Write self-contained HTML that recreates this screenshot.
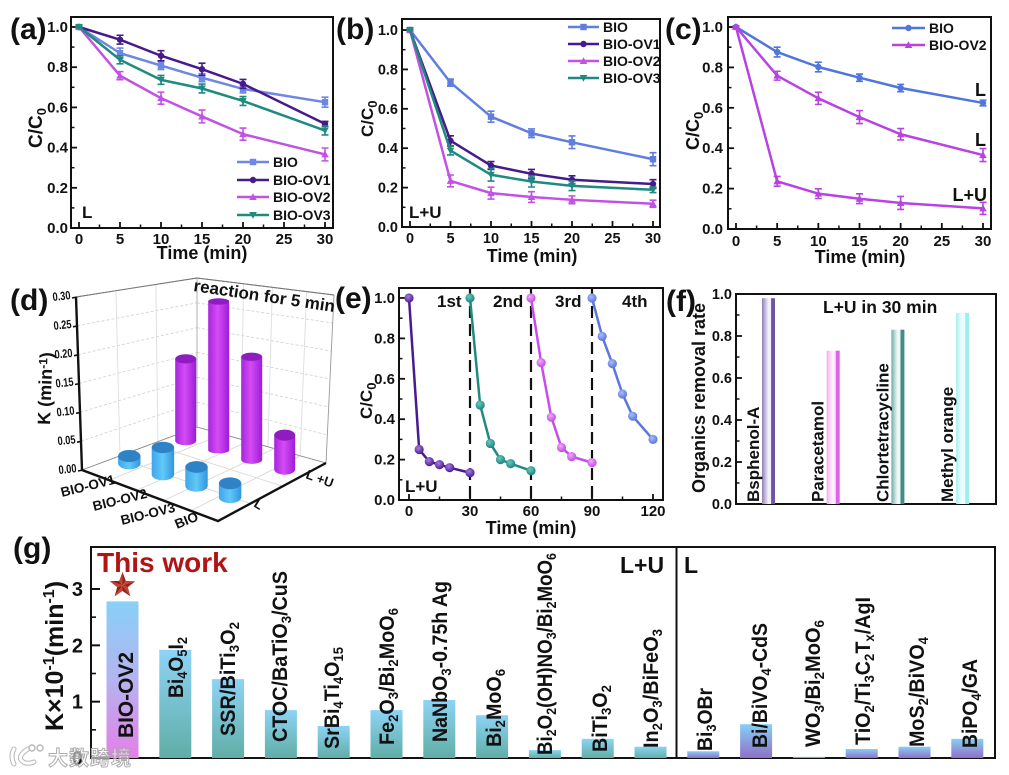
<!DOCTYPE html>
<html lang="en">
<head>
<meta charset="utf-8">
<title>Photocatalytic degradation figure</title>
<style>
html,body{margin:0;padding:0;background:#fff;}
svg{display:block;font-family:"Liberation Sans","Noto Sans CJK SC",sans-serif;font-weight:bold;fill:#111;filter:blur(.35px);}
.panel-letter{font-size:30px;}
.title{font-size:18px;}
.cc{font-size:19px;}
.cc tspan{font-size:13px;}
.gl{font-size:21px;}
.gl tspan.s{font-size:14px;}
.note{font-size:17px;}
.frame{fill:none;stroke:#111;stroke-width:2;}
</style>
</head>
<body>
<svg id="figure" xmlns="http://www.w3.org/2000/svg" width="1009" height="775" viewBox="0 0 1009 775">
<defs>
<linearGradient id="gb-pink" x1="0" y1="0" x2="0" y2="1"><stop offset="0" stop-color="#88d0f6"/><stop offset=".5" stop-color="#b4b4f0"/><stop offset="1" stop-color="#e47fe8"/></linearGradient>
<linearGradient id="gb-teal" x1="0" y1="0" x2="0" y2="1"><stop offset="0" stop-color="#8dd3f6"/><stop offset="1" stop-color="#60aea6"/></linearGradient>
<linearGradient id="gb-purple" x1="0" y1="0" x2="0" y2="1"><stop offset="0" stop-color="#86d0f4"/><stop offset="1" stop-color="#8f70c8"/></linearGradient>
<linearGradient id="cyl-mag" x1="0" y1="0" x2="1" y2="0"><stop offset="0" stop-color="#a625dc"/><stop offset=".45" stop-color="#d44cf4"/><stop offset="1" stop-color="#9c1cd8"/></linearGradient>
<linearGradient id="cyl-blue" x1="0" y1="0" x2="1" y2="0"><stop offset="0" stop-color="#3fa6ea"/><stop offset=".5" stop-color="#62c8f6"/><stop offset="1" stop-color="#2f96e0"/></linearGradient>
<linearGradient id="fb-0" x1="0" y1="0" x2="1" y2="0"><stop offset="0" stop-color="#8f7fb8"/><stop offset=".25" stop-color="#c4b8dc"/><stop offset=".5" stop-color="#f6f2fb"/><stop offset=".68" stop-color="#f0ecf8"/><stop offset=".72" stop-color="#6e559e"/><stop offset="1" stop-color="#6e559e"/></linearGradient>
<linearGradient id="fb-1" x1="0" y1="0" x2="1" y2="0"><stop offset="0" stop-color="#f4a6f0"/><stop offset=".25" stop-color="#fbd8f8"/><stop offset=".5" stop-color="#fff6ff"/><stop offset=".68" stop-color="#fbdcf8"/><stop offset=".72" stop-color="#e460e8"/><stop offset="1" stop-color="#e460e8"/></linearGradient>
<linearGradient id="fb-2" x1="0" y1="0" x2="1" y2="0"><stop offset="0" stop-color="#6eaaa4"/><stop offset=".25" stop-color="#b8d8d4"/><stop offset=".5" stop-color="#f4faf9"/><stop offset=".68" stop-color="#e8f3f2"/><stop offset=".72" stop-color="#3f8d86"/><stop offset="1" stop-color="#3f8d86"/></linearGradient>
<linearGradient id="fb-3" x1="0" y1="0" x2="1" y2="0"><stop offset="0" stop-color="#a4efef"/><stop offset=".25" stop-color="#d2f8f8"/><stop offset=".5" stop-color="#f4fefe"/><stop offset=".68" stop-color="#e6fbfb"/><stop offset=".72" stop-color="#a0eeee"/><stop offset="1" stop-color="#a0eeee"/></linearGradient>
<radialGradient id="ball-purple" cx=".4" cy=".35" r=".7"><stop offset="0" stop-color="#a87ee0"/><stop offset="1" stop-color="#45158c"/></radialGradient>
<radialGradient id="ball-teal" cx=".4" cy=".35" r=".7"><stop offset="0" stop-color="#6cc8bc"/><stop offset="1" stop-color="#15807a"/></radialGradient>
<radialGradient id="ball-mag" cx=".4" cy=".35" r=".7"><stop offset="0" stop-color="#f0aaf8"/><stop offset="1" stop-color="#c042e4"/></radialGradient>
<radialGradient id="ball-blue" cx=".4" cy=".35" r=".7"><stop offset="0" stop-color="#aabcf6"/><stop offset="1" stop-color="#5270dc"/></radialGradient>
</defs>
<rect x="0" y="0" width="1009" height="775" fill="#fff"/>

<!-- panel letters -->
<text class="panel-letter" x="10" y="39">(a)</text>
<text class="panel-letter" x="336" y="39">(b)</text>
<text class="panel-letter" x="665" y="39">(c)</text>
<text class="panel-letter" x="10" y="310">(d)</text>
<text class="panel-letter" x="335" y="308">(e)</text>
<text class="panel-letter" x="666" y="311">(f)</text>
<text class="panel-letter" x="13" y="558">(g)</text>

<!-- panel a -->
<g id="panel-a">
<rect class="frame" x="71" y="17" width="262" height="211"/>
<text class="title" x="202" y="259" text-anchor="middle">Time (min)</text>
<text class="cc" transform="translate(42,148) rotate(-90)">C/C<tspan dy="4">0</tspan></text>
<text class="note" x="82" y="218">L</text>
</g>
<!-- panel b -->
<g id="panel-b">
<rect class="frame" x="402" y="19" width="258" height="208"/>
<text class="title" x="532" y="262" text-anchor="middle">Time (min)</text>
<text class="cc" style="font-size:17px" transform="translate(373,137) rotate(-90)">C/C<tspan dy="4">0</tspan></text>
<text class="note" x="409" y="218">L+U</text>
</g>
<!-- panel c -->
<g id="panel-c">
<rect class="frame" x="728" y="17" width="263" height="212"/>
<text class="title" x="860" y="263" text-anchor="middle">Time (min)</text>
<text class="cc" style="font-size:18px" transform="translate(699,150) rotate(-90)">C/C<tspan dy="4">0</tspan></text>
<text class="title" x="986" y="96" text-anchor="end">L</text>
<text class="title" x="986" y="146" text-anchor="end">L</text>
<text class="title" x="987" y="201" text-anchor="end">L+U</text>
</g>
<!-- panel d -->
<g id="panel-d">
<g id="d-walls"></g>
<path d="M76 297 L82 470 L218 521 L326 463" fill="none" stroke="#111" stroke-width="2.4"/>
<g id="d-bars"></g>
<text transform="translate(50,425) rotate(-88)" style="font-size:18px">K (min<tspan dy="-5" style="font-size:12px">-1</tspan><tspan dy="5">)</tspan></text>
<text transform="translate(193,291) rotate(8.5)" style="font-size:17px">reaction for 5 min</text>
<text transform="translate(62,497) rotate(-14)" style="font-size:13.5px">BIO-OV1</text>
<text transform="translate(94,511) rotate(-14)" style="font-size:13.5px">BIO-OV2</text>
<text transform="translate(122,525) rotate(-14)" style="font-size:13.5px">BIO-OV3</text>
<text transform="translate(177,529) rotate(-22)" style="font-size:13.5px">BIO</text>
<text transform="translate(253,506) rotate(32)" style="font-size:13px">L</text>
<text transform="translate(305,478) rotate(20)" style="font-size:13px">L +U</text>
</g>
<!-- panel e -->
<g id="panel-e">
<rect class="frame" x="399" y="288" width="264" height="212"/>
<text class="title" x="531" y="534" text-anchor="middle">Time (min)</text>
<text class="cc" style="font-size:17px" transform="translate(372,419) rotate(-90)">C/C<tspan dy="4">0</tspan></text>
<text class="note" x="437" y="307">1st</text>
<text class="note" x="493" y="307">2nd</text>
<text class="note" x="555" y="307">3rd</text>
<text class="note" x="622" y="307">4th</text>
<text class="note" x="405" y="492">L+U</text>
</g>
<!-- panel f -->
<g id="panel-f">
<rect class="frame" x="736" y="294" width="260" height="210"/>
<text class="title" transform="translate(705,398) rotate(-90)" text-anchor="middle">Organics removal rate</text>
<text class="note" x="823" y="313" style="font-size:17.5px">L+U in 30 min</text>
</g>
<!-- panel g -->
<g id="panel-g">
<rect class="frame" x="91" y="547" width="904" height="211"/>
<line x1="676.5" y1="547" x2="676.5" y2="758" stroke="#111" stroke-width="2"/>
<text transform="translate(63,731) rotate(-90)" style="font-size:25px">K×10<tspan dy="-9" style="font-size:16px">-1</tspan><tspan dy="9">(min</tspan><tspan dy="-9" style="font-size:16px">-1</tspan><tspan dy="9">)</tspan></text>
<text x="97" y="572" style="font-size:28px;fill:#b01414">This work</text>
<text x="620" y="573" style="font-size:23px">L+U</text>
<text x="684" y="573" style="font-size:23px">L</text>
</g>
<script>
/* ---------- data ---------- */
const timesABC = [0, 5, 10, 15, 20, 30];
const xTicksABC = [0, 5, 10, 15, 20, 25, 30];
const xMinorABC = [2.5, 7.5, 12.5, 17.5, 22.5, 27.5];
const yTicksUnit = [0, 0.2, 0.4, 0.6, 0.8, 1.0];
const yMinorUnit = [0.1, 0.3, 0.5, 0.7, 0.9];

const aBIO = [1, 0.87, 0.808, 0.748, 0.692, 0.626];
const aBIOErr = [0.005, 0.025, 0.02, 0.02, 0.02, 0.025];
const aOV1 = [1, 0.937, 0.857, 0.79, 0.717, 0.518];
const aOV1Err = [0.005, 0.022, 0.025, 0.03, 0.022, 0.012];
const aOV2 = [1, 0.758, 0.646, 0.555, 0.467, 0.366];
const aOV2Err = [0.005, 0.02, 0.03, 0.032, 0.03, 0.032];
const aOV3 = [1, 0.837, 0.737, 0.694, 0.632, 0.485];
const aOV3Err = [0.005, 0.02, 0.022, 0.022, 0.022, 0.022];

const bBIO = [1, 0.733, 0.56, 0.476, 0.43, 0.344];
const bBIOErr = [0.005, 0.018, 0.028, 0.022, 0.032, 0.033];
const bOV1 = [1, 0.438, 0.312, 0.27, 0.24, 0.218];
const bOV1Err = [0.005, 0.025, 0.02, 0.022, 0.02, 0.022];
const bOV2 = [1, 0.234, 0.172, 0.152, 0.138, 0.118];
const bOV2Err = [0.005, 0.03, 0.03, 0.027, 0.02, 0.018];
const bOV3 = [1, 0.388, 0.265, 0.231, 0.209, 0.189];
const bOV3Err = [0.005, 0.022, 0.032, 0.028, 0.024, 0.014];

const cBIO = [1, 0.876, 0.802, 0.749, 0.698, 0.624];
const cBIOErr = [0.005, 0.024, 0.024, 0.018, 0.018, 0.014];
const cOV2L = [1, 0.759, 0.647, 0.554, 0.469, 0.366];
const cOV2LErr = [0.005, 0.022, 0.03, 0.032, 0.028, 0.032];
const cOV2LU = [1, 0.236, 0.175, 0.15, 0.129, 0.102];
const cOV2LUErr = [0.005, 0.024, 0.024, 0.024, 0.032, 0.03];

const dYTicks = [0, 0.05, 0.10, 0.15, 0.20, 0.25, 0.30];
const dCategories = ['BIO-OV1', 'BIO-OV2', 'BIO-OV3', 'BIO'];
const dValuesL = [0.0143, 0.051, 0.034, 0.024];
const dValuesLU = [0.167, 0.29, 0.192, 0.061];

const eTimes1 = [0, 5, 10, 15, 20, 30];
const eCycle1 = [1, 0.25, 0.19, 0.175, 0.16, 0.135];
const eTimes2 = [30, 35, 40, 45, 50, 60];
const eCycle2 = [1, 0.47, 0.28, 0.2, 0.18, 0.145];
const eTimes3 = [60, 65, 70, 75, 80, 90];
const eCycle3 = [1, 0.68, 0.41, 0.26, 0.215, 0.185];
const eTimes4 = [90, 95, 100, 105, 110, 120];
const eCycle4 = [1, 0.81, 0.675, 0.525, 0.415, 0.30];
const eXTicks = [0, 30, 60, 90, 120];
const eXMinor = [15, 45, 75, 105];
const eCycleBoundaries = [30, 60, 90];

const fCategories = ['Bsphenol-A', 'Paracetamol', 'Chlortetracycline', 'Methyl orange'];
const fValues = [0.98, 0.73, 0.83, 0.91];

const gCategories = ['BIO-OV2', 'Bi4O5I2', 'SSR/BiTi3O2', 'CTOC/BaTiO3/CuS', 'SrBi4Ti4O15', 'Fe2O3/Bi2MoO6', 'NaNbO3-0.75h Ag', 'Bi2MoO6', 'Bi2O2(OH)NO3/Bi2MoO6', 'BiTi3O2', 'In2O3/BiFeO3', 'Bi3OBr', 'Bi/BiVO4-CdS', 'WO3/Bi2MoO6', 'TiO2/Ti3C2Tx/AgI', 'MoS2/BiVO4', 'BiPO4/GA'];
const gValues = [2.78, 1.92, 1.40, 0.85, 0.57, 0.85, 1.03, 0.76, 0.14, 0.34, 0.20, 0.12, 0.60, 0.02, 0.16, 0.20, 0.34];
const gYTicks = [0, 1, 2, 3];
const gYMinor = [0.5, 1.5, 2.5];

/* ---------- helpers ---------- */
const svgNS = 'http://www.w3.org/2000/svg';
function mk(tag, attrs, parent) {
  const el = document.createElementNS(svgNS, tag);
  for (const k in attrs) el.setAttribute(k, attrs[k]);
  parent.appendChild(el);
  return el;
}
function linear(d0, d1, r0, r1) {
  return v => r0 + (v - d0) / (d1 - d0) * (r1 - r0);
}
function slug(s) {
  return String(s).toLowerCase().replace(/[^a-z0-9]+/g, '-');
}
function markerShape(shape, x, y, color, parent) {
  let el;
  if (shape === 'square') el = mk('rect', {x: x - 3.2, y: y - 3.2, width: 6.4, height: 6.4, fill: color}, parent);
  else if (shape === 'circle') el = mk('circle', {cx: x, cy: y, r: 3.2, fill: color}, parent);
  else if (shape === 'up') el = mk('polygon', {points: (x - 3.8) + ',' + (y + 3) + ' ' + (x + 3.8) + ',' + (y + 3) + ' ' + x + ',' + (y - 3.8), fill: color}, parent);
  else el = mk('polygon', {points: (x - 3.8) + ',' + (y - 3) + ' ' + (x + 3.8) + ',' + (y - 3) + ' ' + x + ',' + (y + 3.8), fill: color}, parent);
  return el;
}
function drawAxes(panelId, x, y, f, xTicks, xMinor, yTicks, yMinor, xLabelY, yLabelX, size) {
  const g = document.getElementById(panelId);
  xTicks.forEach(t => {
    const tick = mk('line', {x1: x(t), x2: x(t), y1: f.b, y2: f.b - 6, stroke: '#111', 'stroke-width': 1.8}, g);
    
    
    const label = mk('text', {x: x(t), y: xLabelY, 'text-anchor': 'middle', style: 'font-size:' + size + 'px'}, g);
    label.textContent = t;
    
    
  });
  xMinor.forEach(t => {
    const tick = mk('line', {x1: x(t), x2: x(t), y1: f.b, y2: f.b - 3.5, stroke: '#111', 'stroke-width': 1.5}, g);
    
    
  });
  yTicks.forEach(t => {
    const tick = mk('line', {x1: f.l, x2: f.l + 6, y1: y(t), y2: y(t), stroke: '#111', 'stroke-width': 1.8}, g);
    
    
    const label = mk('text', {x: yLabelX, y: y(t) + 5, 'text-anchor': 'end', style: 'font-size:' + size + 'px'}, g);
    label.textContent = t.toFixed(1);
    
    
  });
  yMinor.forEach(t => {
    const tick = mk('line', {x1: f.l, x2: f.l + 3.5, y1: y(t), y2: y(t), stroke: '#111', 'stroke-width': 1.5}, g);
    
    
  });
}
function drawSeries(panelId, name, times, values, errors, x, y, color, shape) {
  const g = mk('g', {}, document.getElementById(panelId));
  
  
  const line = mk('polyline', {points: times.map((t, i) => x(t) + ',' + y(values[i])).join(' '), fill: 'none', stroke: color, 'stroke-width': 2.5, 'stroke-linejoin': 'round'}, g);
  
  
  times.forEach((t, i) => {
    const px = x(t);
    const hi = y(values[i] + errors[i]);
    const lo = y(values[i] - errors[i]);
    const err = mk('path', {d: 'M' + (px - 3.5) + ' ' + hi + 'H' + (px + 3.5) + 'M' + px + ' ' + hi + 'V' + lo + 'M' + (px - 3.5) + ' ' + lo + 'H' + (px + 3.5), fill: 'none', stroke: color, 'stroke-width': 1.6}, g);
    
    
    const m = markerShape(shape, px, y(values[i]), color, g);
    
    
  });
}
function drawLegendEntry(panelId, label, x0, x1, textX, rowY, color, shape) {
  const g = mk('g', {}, document.getElementById(panelId));
  
  
  const ln = mk('line', {x1: x0, x2: x1, y1: rowY, y2: rowY, stroke: color, 'stroke-width': 2.5}, g);
  
  
  const m = markerShape(shape, (x0 + x1) / 2, rowY, color, g);
  
  
  const t = mk('text', {x: textX, y: rowY + 5, style: 'font-size:14px'}, g);
  t.textContent = label;
  
  
}

const colBIO = '#6c88e4', colOV1 = '#471a8c', colOV2 = '#c152e4', colOV3 = '#1f8a80';

/* ---------- panel a ---------- */
const ax = linear(0, 30, 79, 325), ay = linear(0, 1, 228, 27);
drawAxes('panel-a', ax, ay, {l: 71, b: 228}, xTicksABC, xMinorABC, yTicksUnit, yMinorUnit, 244, 68, 15);
drawSeries('panel-a', 'a-BIO', timesABC, aBIO, aBIOErr, ax, ay, colBIO, 'square');
drawSeries('panel-a', 'a-OV1', timesABC, aOV1, aOV1Err, ax, ay, colOV1, 'circle');
drawSeries('panel-a', 'a-OV2', timesABC, aOV2, aOV2Err, ax, ay, colOV2, 'up');
drawSeries('panel-a', 'a-OV3', timesABC, aOV3, aOV3Err, ax, ay, colOV3, 'down');
drawLegendEntry('panel-a', 'BIO', 237, 269, 273, 162, colBIO, 'square');
drawLegendEntry('panel-a', 'BIO-OV1', 237, 269, 273, 180, colOV1, 'circle');
drawLegendEntry('panel-a', 'BIO-OV2', 237, 269, 273, 197, colOV2, 'up');
drawLegendEntry('panel-a', 'BIO-OV3', 237, 269, 273, 215, colOV3, 'down');

/* ---------- panel b ---------- */
const bx = linear(0, 30, 410, 653), by = linear(0, 1, 227, 30);
drawAxes('panel-b', bx, by, {l: 402, b: 227}, xTicksABC, xMinorABC, yTicksUnit, yMinorUnit, 243, 398, 14.5);
drawSeries('panel-b', 'b-BIO', timesABC, bBIO, bBIOErr, bx, by, '#5f7ee0', 'square');
drawSeries('panel-b', 'b-OV1', timesABC, bOV1, bOV1Err, bx, by, colOV1, 'circle');
drawSeries('panel-b', 'b-OV2', timesABC, bOV2, bOV2Err, bx, by, colOV2, 'up');
drawSeries('panel-b', 'b-OV3', timesABC, bOV3, bOV3Err, bx, by, colOV3, 'down');
drawLegendEntry('panel-b', 'BIO', 568, 599, 603, 27, '#5f7ee0', 'square');
drawLegendEntry('panel-b', 'BIO-OV1', 568, 599, 603, 44, colOV1, 'circle');
drawLegendEntry('panel-b', 'BIO-OV2', 568, 599, 603, 61, colOV2, 'up');
drawLegendEntry('panel-b', 'BIO-OV3', 568, 599, 603, 78, colOV3, 'down');

/* ---------- panel c ---------- */
const cx = linear(0, 30, 736, 983), cy = linear(0, 1, 229, 27);
drawAxes('panel-c', cx, cy, {l: 728, b: 229}, xTicksABC, xMinorABC, yTicksUnit, yMinorUnit, 246, 723, 15);
drawSeries('panel-c', 'c-BIO', timesABC, cBIO, cBIOErr, cx, cy, '#4f76dc', 'circle');
drawSeries('panel-c', 'c-OV2-L', timesABC, cOV2L, cOV2LErr, cx, cy, '#b843e0', 'up');
drawSeries('panel-c', 'c-OV2-LU', timesABC, cOV2LU, cOV2LUErr, cx, cy, '#b843e0', 'up');
drawLegendEntry('panel-c', 'BIO', 892, 925, 929, 28, '#4f76dc', 'circle');
drawLegendEntry('panel-c', 'BIO-OV2', 892, 925, 929, 45, '#b843e0', 'up');

/* ---------- panel d ---------- */
const dLeft0 = [82, 470], dLeft1 = [76, 297], dBack0 = [197, 427], dBack1 = [197, 278], dRight0 = [326, 463], dRight1 = [334, 295], dFront = [218, 521];
const mix = (a, b, t) => [a[0] + (b[0] - a[0]) * t, a[1] + (b[1] - a[1]) * t];
const dk = linear(0, 0.3, 0, 1);
const wallG = document.getElementById('d-walls');
function wallLine(p, q, name, color, dash) {
  const l = mk('line', {x1: p[0], y1: p[1], x2: q[0], y2: q[1], stroke: color, 'stroke-width': 0.9, 'stroke-dasharray': dash}, wallG);
  
  
}
dYTicks.forEach(k => {
  const t = dk(k);
  const L = mix(dLeft0, dLeft1, t), B = mix(dBack0, dBack1, t), R = mix(dRight0, dRight1, t);
  wallLine(L, B, 'wall-gridline', k === 0.3 ? '#777' : '#d4d4d4', k === 0.3 ? 'none' : '3 2');
  wallLine(B, R, 'wall-gridline', k === 0.3 ? '#777' : '#d4d4d4', k === 0.3 ? 'none' : '3 2');
  const tick = mk('line', {x1: L[0] - 4, y1: L[1] + 1, x2: L[0] + 1, y2: L[1], stroke: '#111', 'stroke-width': 1.6}, wallG);
  
  
  const lab = mk('text', {transform: 'translate(' + (L[0] - 23) + ',' + (L[1] + 4) + ') rotate(-6)', style: 'font-size:12px', textLength: 18, lengthAdjust: 'spacingAndGlyphs'}, wallG);
  lab.textContent = k.toFixed(2);
  
  
});
[0.33, 0.66].forEach(t => {
  wallLine(mix(dLeft0, dBack0, t), mix(dLeft1, dBack1, t), 'wall-gridline', '#dedede', 'none');
});
[0.34, 0.55, 0.8].forEach(t => {
  wallLine(mix(dBack0, dRight0, t), mix(dBack1, dRight1, t), 'wall-gridline', '#dedede', 'none');
});
wallLine(dBack0, dBack1, 'wall-back-edge', '#aaa', 'none');
wallLine(dRight0, dRight1, 'wall-right-edge', '#999', 'none');
wallLine(dLeft1, dBack1, 'wall-top-edge', '#777', 'none');
wallLine(dBack1, dRight1, 'wall-top-edge', '#777', 'none');
wallLine(dBack0, dLeft0, 'floor-back-edge', '#888', 'none');
wallLine(dBack0, dRight0, 'floor-right-edge', '#888', 'none');
[0.2, 0.4, 0.6, 0.8].forEach(t => {
  wallLine(mix(dLeft0, dFront, t), mix(dBack0, dRight0, t), 'floor-gridline', '#d8d8d8', 'none');
});
[0.3, 0.6].forEach(t => {
  wallLine(mix(dFront, dRight0, t), mix(dLeft0, dBack0, t), 'floor-gridline', '#d8d8d8', 'none');
});
function dBase(c, row) {
  return row === 0 ? [129.3 + c * 33.6, 463.3 + c * 11.3] : [185.7 + c * 33, 440.7 + c * 9.5];
}
function dHeight(value, c, row) {
  return value * (490 + c * 23 + (row === 0 ? 20 : 0));
}
const dBarsG = document.getElementById('d-bars');
function drawCylinder(value, c, row, fill, topFill, name) {
  const b = dBase(c, row);
  const h = dHeight(value, c, row);
  const rx = row === 0 ? 11.2 : 10.5;
  const ry = Math.max(3, 6.2 - h * 0.02);
  const top = b[1] - h;
  const body = mk('path', {d: 'M' + (b[0] - rx) + ' ' + top + 'V' + b[1] + 'A' + rx + ' ' + ry + ' 0 0 0 ' + (b[0] + rx) + ' ' + b[1] + 'V' + top + 'Z', fill: fill}, dBarsG);
  
  
  const cap = mk('ellipse', {cx: b[0], cy: top, rx: rx, ry: ry, fill: topFill}, dBarsG);
  
  
}
dCategories.forEach((cat, i) => {
  drawCylinder(dValuesLU[i], i, 1, 'url(#cyl-mag)', '#8e1cc0', 'cylinder-lu-' + slug(cat));
});
dCategories.forEach((cat, i) => {
  drawCylinder(dValuesL[i], i, 0, 'url(#cyl-blue)', '#2e82c6', 'cylinder-l-' + slug(cat));
});

/* ---------- panel e ---------- */
const ex = linear(0, 120, 409, 653), ey = linear(0, 1, 500, 298);
drawAxes('panel-e', ex, ey, {l: 399, b: 500}, eXTicks, eXMinor, yTicksUnit, yMinorUnit, 516, 395, 15);
const panelE = document.getElementById('panel-e');
eCycleBoundaries.forEach(t => {
  const dash = mk('line', {x1: ex(t), x2: ex(t), y1: 288, y2: 500, stroke: '#111', 'stroke-width': 2.2, 'stroke-dasharray': '12 6'}, panelE);
  
  
});
function drawCycle(name, times, values, color, ball) {
  const g = mk('g', {}, panelE);
  
  
  const line = mk('polyline', {points: times.map((t, i) => ex(t) + ',' + ey(values[i])).join(' '), fill: 'none', stroke: color, 'stroke-width': 2.5}, g);
  
  
  times.forEach((t, i) => {
    const p = mk('circle', {cx: ex(t), cy: ey(values[i]), r: 4.6, fill: 'url(#' + ball + ')'}, g);
    
    
  });
}
drawCycle('cycle-1', eTimes1, eCycle1, '#4a1a90', 'ball-purple');
drawCycle('cycle-2', eTimes2, eCycle2, '#1f8a80', 'ball-teal');
drawCycle('cycle-3', eTimes3, eCycle3, '#c64ee8', 'ball-mag');
drawCycle('cycle-4', eTimes4, eCycle4, '#5a76e0', 'ball-blue');

/* ---------- panel f ---------- */
const fy = linear(0, 1, 504, 294);
const fx = i => 768.5 + i * 64.7;
drawAxes('panel-f', v => v, fy, {l: 736, b: 504}, [], [], yTicksUnit, yMinorUnit, 0, 732, 14.5);
const panelF = document.getElementById('panel-f');
fCategories.forEach((cat, i) => {
  const bar = mk('rect', {x: fx(i) - 6.5, y: fy(fValues[i]), width: 13, height: fy(0) - fy(fValues[i]), fill: 'url(#fb-' + i + ')'}, panelF);
  
  
  const label = mk('text', {transform: 'translate(' + (fx(i) - 9.5) + ',502) rotate(-90)', style: 'font-size:17px'}, panelF);
  label.textContent = cat;
  
  
});

/* ---------- panel g ---------- */
const gy = linear(0, 3, 758, 589);
const gx = i => 122.5 + i * 52.8;
const panelG = document.getElementById('panel-g');
gCategories.forEach((cat, i) => {
  const fill = i === 0 ? 'url(#gb-pink)' : (i < 11 ? 'url(#gb-teal)' : 'url(#gb-purple)');
  const bar = mk('rect', {x: gx(i) - 16, y: gy(gValues[i]), width: 32, height: gy(0) - gy(gValues[i]), fill: fill}, panelG);
  
  
});
gYTicks.forEach(t => {
  const tick = mk('line', {x1: 91, x2: 100, y1: gy(t), y2: gy(t), stroke: '#111', 'stroke-width': 2}, panelG);
  
  
  const lab = mk('text', {x: 83, y: gy(t) + 7, 'text-anchor': 'end', style: 'font-size:20px'}, panelG);
  lab.textContent = t;
  
  
});
gYMinor.forEach(t => {
  const tick = mk('line', {x1: 91, x2: 96, y1: gy(t), y2: gy(t), stroke: '#111', 'stroke-width': 1.6}, panelG);
  
  
});
/* star sits just above the highest bar */
const starG = mk('g', {}, panelG);


const starX = gx(0), starY = gy(gValues[0]) - 16;
for (let i = 0; i < 10; i++) {
  const a0 = -Math.PI / 2 + i * Math.PI / 5;
  const a1 = a0 + Math.PI / 5;
  const r0 = i % 2 === 0 ? 13.5 : 5.6;
  const r1 = i % 2 === 0 ? 5.6 : 13.5;
  const facet = mk('polygon', {points: starX + ',' + starY + ' ' + (starX + r0 * Math.cos(a0)) + ',' + (starY + r0 * Math.sin(a0)) + ' ' + (starX + r1 * Math.cos(a1)) + ',' + (starY + r1 * Math.sin(a1)), fill: i % 2 === 0 ? '#8f2418' : '#cc4030'}, starG);
  
  
}
</script>
<!-- rotated labels of panel g, drawn above the bars -->
<g id="g-labels">
<text class="gl" transform="translate(133,738) rotate(-90)" textLength="86" lengthAdjust="spacingAndGlyphs">BIO-OV2</text>
<text class="gl" transform="translate(183,698) rotate(-90)" textLength="61" lengthAdjust="spacingAndGlyphs">Bi<tspan class="s" dy="4">4</tspan><tspan dy="-4">O</tspan><tspan class="s" dy="4">5</tspan><tspan dy="-4">I</tspan><tspan class="s" dy="4">2</tspan></text>
<text class="gl" transform="translate(235,736) rotate(-90)" textLength="114" lengthAdjust="spacingAndGlyphs">SSR/BiTi<tspan class="s" dy="4">3</tspan><tspan dy="-4">O</tspan><tspan class="s" dy="4">2</tspan></text>
<text class="gl" transform="translate(287,742) rotate(-90)" textLength="171" lengthAdjust="spacingAndGlyphs">CTOC/BaTiO<tspan class="s" dy="4">3</tspan><tspan dy="-4">/CuS</tspan></text>
<text class="gl" transform="translate(339,749) rotate(-90)" textLength="102" lengthAdjust="spacingAndGlyphs">SrBi<tspan class="s" dy="4">4</tspan><tspan dy="-4">Ti</tspan><tspan class="s" dy="4">4</tspan><tspan dy="-4">O</tspan><tspan class="s" dy="4">15</tspan></text>
<text class="gl" transform="translate(394,745) rotate(-90)" textLength="137" lengthAdjust="spacingAndGlyphs">Fe<tspan class="s" dy="4">2</tspan><tspan dy="-4">O</tspan><tspan class="s" dy="4">3</tspan><tspan dy="-4">/Bi</tspan><tspan class="s" dy="4">2</tspan><tspan dy="-4">MoO</tspan><tspan class="s" dy="4">6</tspan></text>
<text class="gl" transform="translate(447,742) rotate(-90)" textLength="161" lengthAdjust="spacingAndGlyphs">NaNbO<tspan class="s" dy="4">3</tspan><tspan dy="-4">-0.75h Ag</tspan></text>
<text class="gl" transform="translate(501,747) rotate(-90)" textLength="78" lengthAdjust="spacingAndGlyphs">Bi<tspan class="s" dy="4">2</tspan><tspan dy="-4">MoO</tspan><tspan class="s" dy="4">6</tspan></text>
<text class="gl" transform="translate(552,755) rotate(-90)" textLength="202" lengthAdjust="spacingAndGlyphs">Bi<tspan class="s" dy="4">2</tspan><tspan dy="-4">O</tspan><tspan class="s" dy="4">2</tspan><tspan dy="-4">(OH)NO</tspan><tspan class="s" dy="4">3</tspan><tspan dy="-4">/Bi</tspan><tspan class="s" dy="4">2</tspan><tspan dy="-4">MoO</tspan><tspan class="s" dy="4">6</tspan></text>
<text class="gl" transform="translate(607,752) rotate(-90)" textLength="67" lengthAdjust="spacingAndGlyphs">BiTi<tspan class="s" dy="4">3</tspan><tspan dy="-4">O</tspan><tspan class="s" dy="4">2</tspan></text>
<text class="gl" transform="translate(658,748) rotate(-90)" textLength="119" lengthAdjust="spacingAndGlyphs">In<tspan class="s" dy="4">2</tspan><tspan dy="-4">O</tspan><tspan class="s" dy="4">3</tspan><tspan dy="-4">/BiFeO</tspan><tspan class="s" dy="4">3</tspan></text>
<text class="gl" transform="translate(712,751) rotate(-90)" textLength="63" lengthAdjust="spacingAndGlyphs">Bi<tspan class="s" dy="4">3</tspan><tspan dy="-4">OBr</tspan></text>
<text class="gl" transform="translate(767,748) rotate(-90)" textLength="125" lengthAdjust="spacingAndGlyphs">Bi/BiVO<tspan class="s" dy="4">4</tspan><tspan dy="-4">-CdS</tspan></text>
<text class="gl" transform="translate(820,747) rotate(-90)" textLength="127" lengthAdjust="spacingAndGlyphs">WO<tspan class="s" dy="4">3</tspan><tspan dy="-4">/Bi</tspan><tspan class="s" dy="4">2</tspan><tspan dy="-4">MoO</tspan><tspan class="s" dy="4">6</tspan></text>
<text class="gl" transform="translate(870,745) rotate(-90)" textLength="148" lengthAdjust="spacingAndGlyphs">TiO<tspan class="s" dy="4">2</tspan><tspan dy="-4">/Ti</tspan><tspan class="s" dy="4">3</tspan><tspan dy="-4">C</tspan><tspan class="s" dy="4">2</tspan><tspan dy="-4">T</tspan><tspan class="s" dy="4">x</tspan><tspan dy="-4">/AgI</tspan></text>
<text class="gl" transform="translate(924,747) rotate(-90)" textLength="110" lengthAdjust="spacingAndGlyphs">MoS<tspan class="s" dy="4">2</tspan><tspan dy="-4">/BiVO</tspan><tspan class="s" dy="4">4</tspan></text>
<text class="gl" transform="translate(977,748) rotate(-90)" textLength="89" lengthAdjust="spacingAndGlyphs">BiPO<tspan class="s" dy="4">4</tspan><tspan dy="-4">/GA</tspan></text>
</g>
<!-- watermark -->
<g>
<path d="M14 749 Q10 756 14 764 M28 749 Q17 756 22 761 Q26 765 34 762" fill="none" stroke="#b8b8b8" stroke-width="5" stroke-linecap="round"/>
<path d="M14 749 Q10 756 14 764 M28 749 Q17 756 22 761 Q26 765 34 762" fill="none" stroke="#fff" stroke-width="3" stroke-linecap="round"/>
<circle cx="32" cy="748" r="3" fill="#fff" stroke="#b8b8b8" stroke-width="1.4"/>
<circle cx="40" cy="748" r="3" fill="#fff" stroke="#b8b8b8" stroke-width="1.4"/>
<text x="48" y="765" style="font-family:'Noto Sans CJK SC',sans-serif;font-size:20px;font-weight:700;fill:rgba(255,255,255,.55);stroke:rgba(165,165,165,.9);stroke-width:1" textLength="83">大数跨境</text>
</g>
</svg>
</body>
</html>
